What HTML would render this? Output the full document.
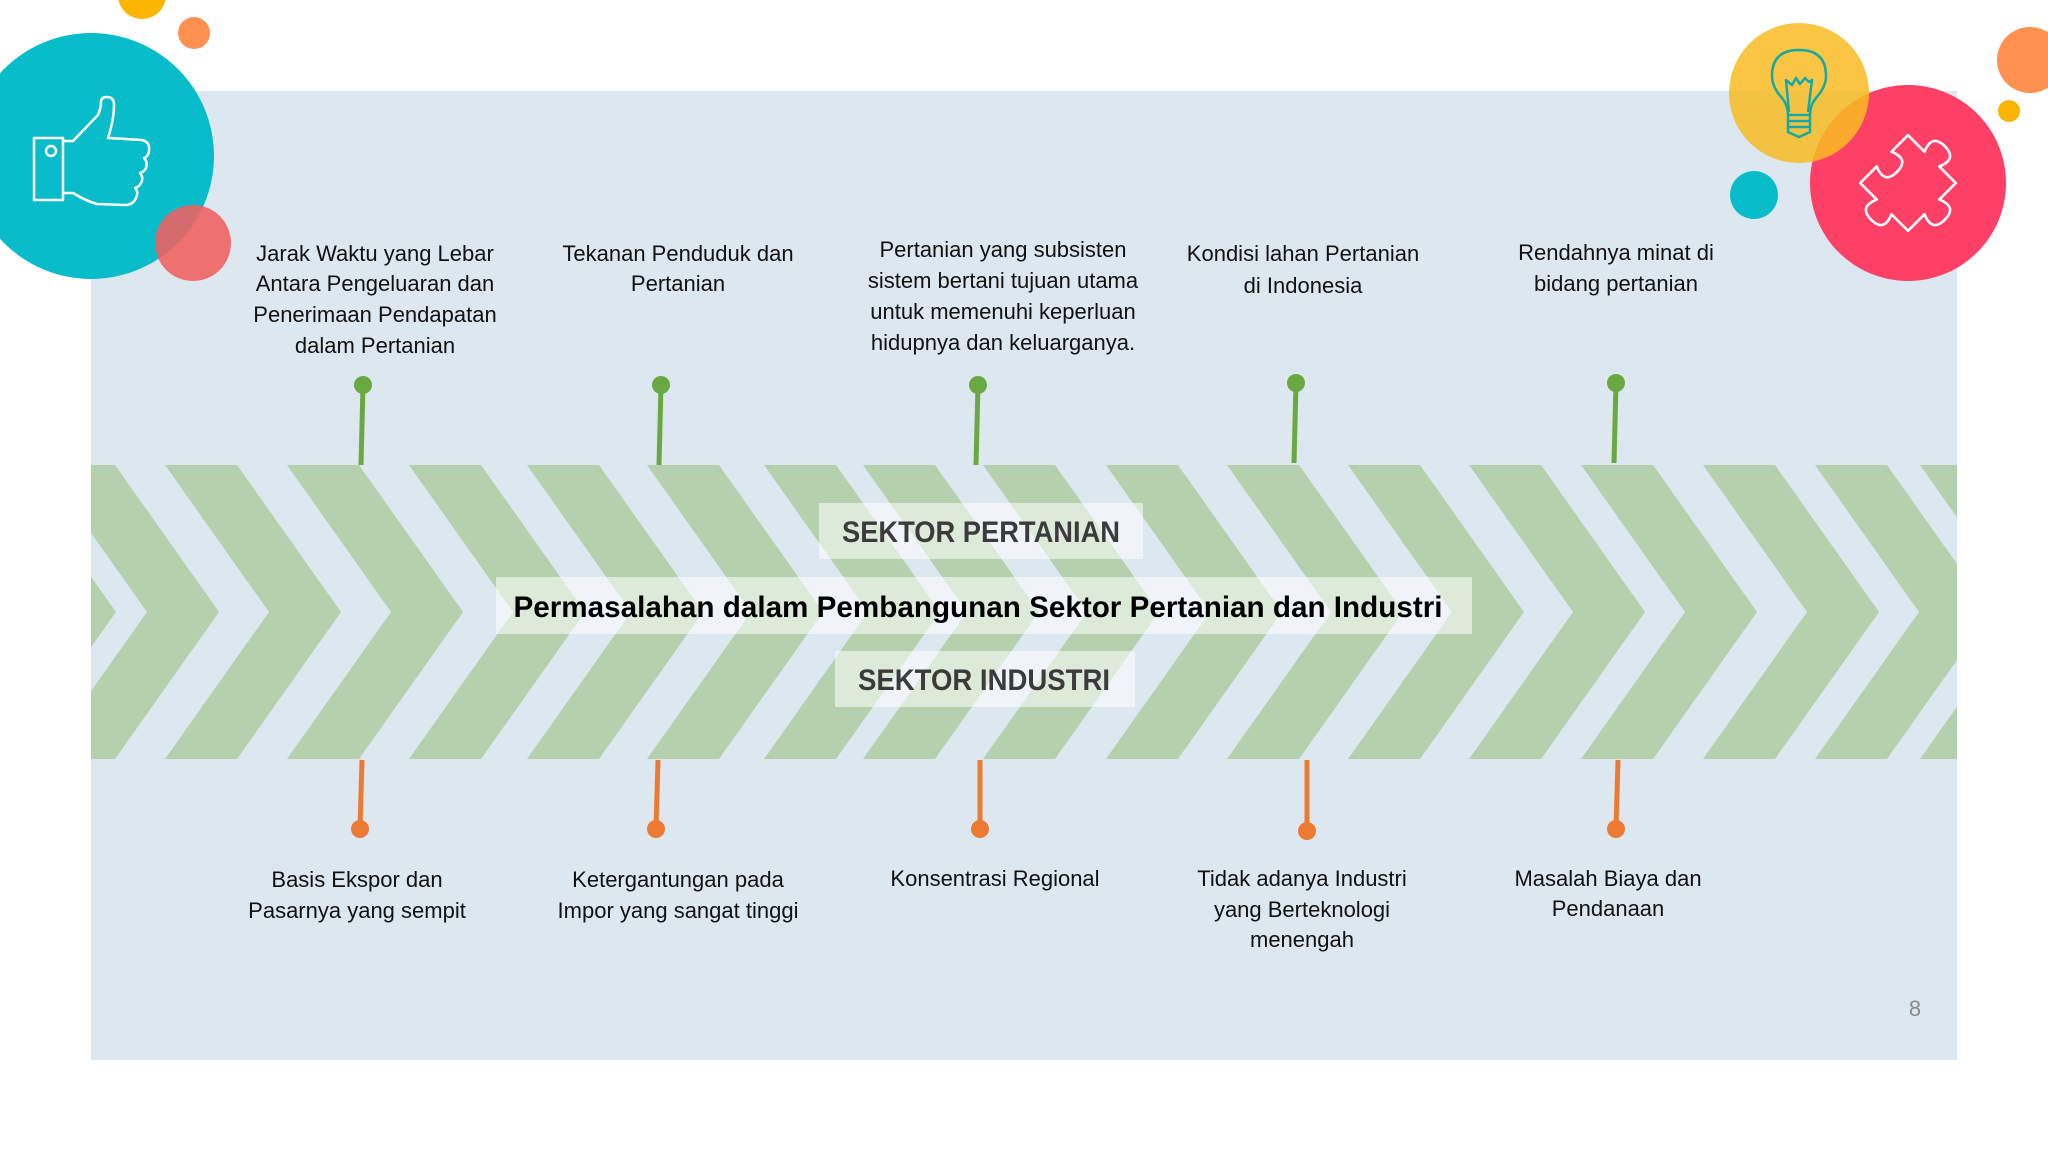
<!DOCTYPE html>
<html><head><meta charset="utf-8"><style>html,body{margin:0;padding:0;background:#fff;}svg{display:block}</style></head>
<body>
<svg width="2048" height="1152" viewBox="0 0 2048 1152" xmlns="http://www.w3.org/2000/svg" font-family="'Liberation Sans', sans-serif">
<defs><clipPath id="band"><rect x="91" y="465" width="1866" height="295"/></clipPath></defs>
<rect x="91" y="91" width="1866" height="969" fill="#dde7f0"/>
<g clip-path="url(#band)" fill="#b4d0ad">
<polygon points="-60,465 12,465 116,612 12,759 -60,759 44,612"/>
<polygon points="43,465 115,465 219,612 115,759 43,759 147,612"/>
<polygon points="165,465 237,465 341,612 237,759 165,759 269,612"/>
<polygon points="287,465 359,465 463,612 359,759 287,759 391,612"/>
<polygon points="409,465 481,465 585,612 481,759 409,759 513,612"/>
<polygon points="527,465 599,465 703,612 599,759 527,759 631,612"/>
<polygon points="647,465 719,465 823,612 719,759 647,759 751,612"/>
<polygon points="764,465 836,465 940,612 836,759 764,759 868,612"/>
<polygon points="863,465 935,465 1039,612 935,759 863,759 967,612"/>
<polygon points="983,465 1055,465 1159,612 1055,759 983,759 1087,612"/>
<polygon points="1106,465 1178,465 1282,612 1178,759 1106,759 1210,612"/>
<polygon points="1227,465 1299,465 1403,612 1299,759 1227,759 1331,612"/>
<polygon points="1348,465 1420,465 1524,612 1420,759 1348,759 1452,612"/>
<polygon points="1469,465 1541,465 1645,612 1541,759 1469,759 1573,612"/>
<polygon points="1581,465 1653,465 1757,612 1653,759 1581,759 1685,612"/>
<polygon points="1703,465 1775,465 1879,612 1775,759 1703,759 1807,612"/>
<polygon points="1815,465 1887,465 1991,612 1887,759 1815,759 1919,612"/>
<polygon points="1920,465 1992,465 2096,612 1992,759 1920,759 2024,612"/>
</g>
<rect x="819" y="503" width="324" height="56" fill="#fff" fill-opacity="0.55"/>
<rect x="496" y="577" width="976" height="57" fill="#fff" fill-opacity="0.55"/>
<rect x="835" y="651" width="300" height="56" fill="#fff" fill-opacity="0.55"/>
<text x="981" y="542" font-size="30" font-weight="bold" fill="#3b3b3b" text-anchor="middle" textLength="278" lengthAdjust="spacingAndGlyphs">SEKTOR PERTANIAN</text>
<text x="978" y="617" font-size="30" font-weight="bold" fill="#000" text-anchor="middle" textLength="929" lengthAdjust="spacingAndGlyphs">Permasalahan dalam Pembangunan Sektor Pertanian dan Industri</text>
<text x="984" y="690" font-size="30" font-weight="bold" fill="#3b3b3b" text-anchor="middle" textLength="252" lengthAdjust="spacingAndGlyphs">SEKTOR INDUSTRI</text>
<g stroke="#6aa842" stroke-width="5" fill="#6aa842">
<line x1="363" y1="385" x2="361" y2="465"/><circle cx="363" cy="385" r="9" stroke="none"/>
<line x1="661" y1="385" x2="659" y2="465"/><circle cx="661" cy="385" r="9" stroke="none"/>
<line x1="978" y1="385" x2="976" y2="465"/><circle cx="978" cy="385" r="9" stroke="none"/>
<line x1="1296" y1="383" x2="1294" y2="463"/><circle cx="1296" cy="383" r="9" stroke="none"/>
<line x1="1616" y1="383" x2="1614" y2="463"/><circle cx="1616" cy="383" r="9" stroke="none"/>
</g>
<g stroke="#ec7a32" stroke-width="5" fill="#ec7a32">
<line x1="362" y1="760" x2="360" y2="829"/><circle cx="360" cy="829" r="9" stroke="none"/>
<line x1="658" y1="760" x2="656" y2="829"/><circle cx="656" cy="829" r="9" stroke="none"/>
<line x1="980" y1="760" x2="980" y2="829"/><circle cx="980" cy="829" r="9" stroke="none"/>
<line x1="1307" y1="760" x2="1307" y2="831"/><circle cx="1307" cy="831" r="9" stroke="none"/>
<line x1="1618" y1="760" x2="1616" y2="829"/><circle cx="1616" cy="829" r="9" stroke="none"/>
</g>
<g font-size="22" fill="#111" text-anchor="middle">
<text x="375" y="261">Jarak Waktu yang Lebar</text>
<text x="375" y="291">Antara Pengeluaran dan</text>
<text x="375" y="322">Penerimaan Pendapatan</text>
<text x="375" y="353">dalam Pertanian</text>
<text x="678" y="261">Tekanan Penduduk dan</text>
<text x="678" y="291">Pertanian</text>
<text x="1003" y="257">Pertanian yang subsisten</text>
<text x="1003" y="288">sistem bertani tujuan utama</text>
<text x="1003" y="319">untuk memenuhi keperluan</text>
<text x="1003" y="350">hidupnya dan keluarganya.</text>
<text x="1303" y="261">Kondisi lahan Pertanian</text>
<text x="1303" y="293">di Indonesia</text>
<text x="1616" y="260">Rendahnya minat di</text>
<text x="1616" y="291">bidang pertanian</text>
<text x="357" y="887">Basis Ekspor dan</text>
<text x="357" y="918">Pasarnya yang sempit</text>
<text x="678" y="887">Ketergantungan pada</text>
<text x="678" y="918">Impor yang sangat tinggi</text>
<text x="995" y="886">Konsentrasi Regional</text>
<text x="1302" y="886">Tidak adanya Industri</text>
<text x="1302" y="917">yang Berteknologi</text>
<text x="1302" y="947">menengah</text>
<text x="1608" y="886">Masalah Biaya dan</text>
<text x="1608" y="916">Pendanaan</text>
</g>
<text x="1915" y="1016" font-size="22" fill="#8a8a8a" text-anchor="middle">8</text>
<circle cx="142" cy="-5" r="24" fill="#fbb500"/>
<circle cx="194" cy="33" r="16" fill="#fe9150"/>
<circle cx="91" cy="156" r="123" fill="#08bcc9"/>
<circle cx="193" cy="243" r="38" fill="#f0605f" fill-opacity="0.88"/>
<g fill="none" stroke="#fff" stroke-width="2.5" stroke-linejoin="round">
<rect x="34" y="138" width="29" height="62"/>
<circle cx="51" cy="151" r="5"/>
<path d="M63,141 H73 L98,115 Q101,108 101,102 Q101,97 107,97 Q114,97 114,105 Q114,120 108,138 L142,140 Q150,142 149,150 Q149,156 144,158 Q148,162 146,168 Q144,172 140,173 Q144,178 141,183 Q139,187 135,188 Q139,192 136,198 Q133,205 125,205 L97,204 Q86,201 73,193 L63,193"/>
</g>
<circle cx="2030" cy="60" r="33" fill="#fe9150"/>
<circle cx="2009" cy="111" r="11" fill="#fbb500"/>
<circle cx="1754" cy="195" r="24" fill="#08bcc9"/>
<circle cx="1908" cy="183" r="98" fill="#fe3f66"/>
<circle cx="1799" cy="93" r="70" fill="#f8bc24" fill-opacity="0.86"/>
<g fill="none" stroke="#15a9a6" stroke-width="2.5" stroke-linejoin="round">
<path d="M1788,132 L1788,115 Q1788,105 1782,98 Q1772,87 1772,76 Q1772,50 1799,50 Q1826,50 1826,76 Q1826,87 1816,98 Q1810,105 1810,115 L1810,132 L1799,137 Z"/>
<path d="M1788,115 H1810 M1788,121 H1810 M1788,127 H1810"/>
<path d="M1789,112 L1786,80 L1792,85 L1796,78 L1800,84 L1805,78 L1809,82 L1812,80 L1808,112"/>
</g>
<g transform="translate(1908,183) rotate(45) scale(1.3)" fill="none" stroke="#fff" stroke-width="2" stroke-linejoin="round">
<path d="M-26,-26 H-8 Q-14,-40 0,-40 Q14,-40 8,-26 H26 V-8 Q40,-14 40,0 Q40,14 26,8 V26 H8 Q14,40 0,40 Q-14,40 -8,26 H-26 V8 Q-12,14 -12,0 Q-12,-14 -26,-8 Z"/>
</g>
</svg>
</body></html>
